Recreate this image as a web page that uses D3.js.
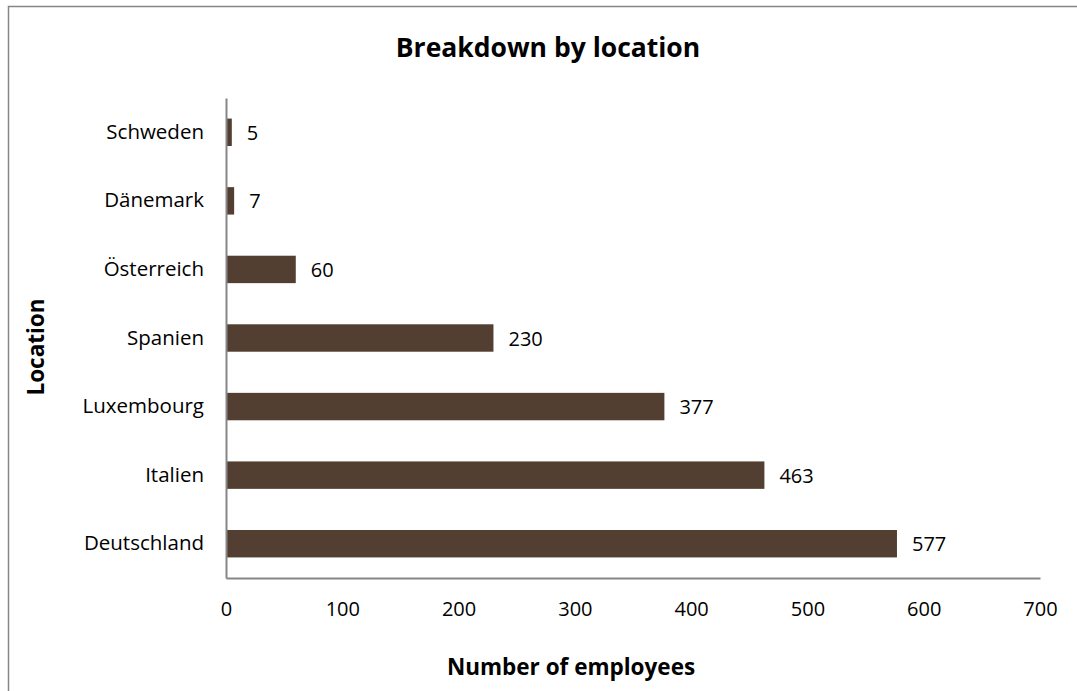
<!DOCTYPE html>
<html><head><meta charset="utf-8">
<script src="https://cdn.jsdelivr.net/npm/d3@7"></script>
<style>body{margin:0;background:#fff}svg{display:block}</style>
</head><body><svg id="c" width="1077" height="691"></svg>
<script>
const categories = ["Schweden","Dänemark","Österreich","Spanien","Luxembourg","Italien","Deutschland"];
const values = [5,7,60,230,377,463,577];
const xTicks = [0,100,200,300,400,500,600,700];
const title = "Breakdown by location";
const xTitle = "Number of employees";
const yTitle = "Location";

const svg = d3.select("#c");
const font = "'Open Sans', sans-serif";
const m = {left:226, right:1040, top:98, bottom:578};

svg.append("rect").attr("x",8.5).attr("y",6.5).attr("width",1100).attr("height",700)
  .attr("fill","#fff").attr("stroke","#868686").attr("stroke-width",1.5);

const x = d3.scaleLinear().domain([0,700]).range([m.left,m.right]);
const y = d3.scaleBand().domain(categories).range([m.top,m.bottom]).padding(0);
const bh = y.bandwidth()*0.4;

svg.append("g").selectAll("rect").data(values).join("rect")
  .attr("x",x(0)).attr("y",(d,i)=>y(categories[i])+y.bandwidth()/2-bh/2)
  .attr("width",d=>x(d)-x(0)).attr("height",bh).attr("fill","#523f32");

// axes
const xa = svg.append("g").attr("transform",`translate(0,${m.bottom})`)
  .call(d3.axisBottom(x).tickValues(xTicks).tickSize(0).tickPadding(24).tickFormat(d3.format("d")));
xa.select(".domain").attr("stroke","#868686").attr("stroke-width",2);
xa.selectAll("text").attr("font-family",font).attr("font-size",20).attr("fill","#000");

const ya = svg.append("g").attr("transform",`translate(${m.left},0)`)
  .call(d3.axisLeft(y).tickSize(0).tickPadding(22));
ya.select(".domain").attr("stroke","#868686").attr("stroke-width",2);
ya.selectAll("text").attr("font-family",font).attr("font-size",20.5).attr("fill","#000");

// value labels
svg.append("g").selectAll("text").data(values).join("text")
  .attr("x",d=>x(d)+15).attr("y",(d,i)=>y(categories[i])+y.bandwidth()/2)
  .attr("dy","0.38em").attr("font-family",font).attr("font-size",20).text(d=>d);

svg.append("text").attr("x",548).attr("y",57).attr("text-anchor","middle")
  .attr("font-family",font).attr("font-weight","bold").attr("font-size",26.5).text(title);
svg.append("text").attr("x",571).attr("y",675).attr("text-anchor","middle")
  .attr("font-family",font).attr("font-weight","bold").attr("font-size",22.5).text(xTitle);
svg.append("text").attr("transform",`translate(44,347) rotate(-90)`).attr("text-anchor","middle")
  .attr("font-family",font).attr("font-weight","bold").attr("font-size",22.5).text(yTitle);
</script></body></html>
